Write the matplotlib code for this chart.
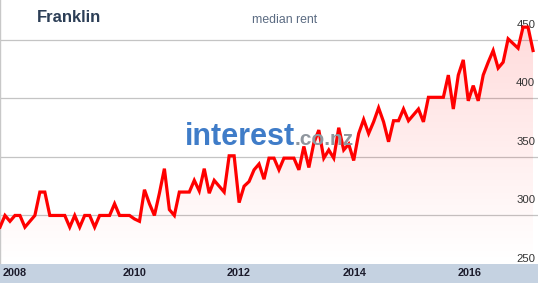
import numpy as np
import matplotlib
matplotlib.use("Agg")
import matplotlib.pyplot as plt
from matplotlib.patches import Polygon

plt.rcParams["font.family"] = ["Liberation Sans", "DejaVu Sans"]

# median rent (one value per period)
rent = [
    290, 300, 295, 300, 300, 290, 295, 300, 320, 320,
    300, 300, 300, 300, 290, 300, 290, 300, 300, 290,
    300, 300, 300, 310, 300, 300, 300, 297, 295, 322,
    310, 300, 319, 340, 305, 300, 320, 320, 320, 330,
    321, 340, 319, 330, 325, 320, 351, 351, 311, 325,
    329, 339, 344, 331, 349, 349, 339, 349, 349, 349,
    339, 359, 341, 362, 373, 349, 356, 349, 375, 356,
    361, 347, 370, 382, 370, 380, 392, 380, 363, 381,
    381, 391, 381, 386, 391, 380, 401, 401, 401, 401,
    420, 391, 420, 433, 398, 411, 398, 420, 431, 441,
    426, 431, 451, 447, 443, 461, 461, 441,
]
year_labels = ["2008", "2010", "2012", "2014", "2016"]
year_pos = [3.0, 27.1, 47.9, 71.1, 94.2]
y_ticks = [250, 300, 350, 400, 450]

W, H = 538, 283
fig = plt.figure(figsize=(W / 100, H / 100), dpi=100)
fig.patch.set_facecolor("white")

band_h = 19 / H
ax = fig.add_axes([0, band_h, 1, 1 - band_h])
ax.set_xlim(0, 108.0)
ax.set_ylim(258.5, 484.2)
ax.set_facecolor("white")
for s in ["top", "right", "bottom"]:
    ax.spines[s].set_visible(False)
ax.spines["left"].set_color("#c8c8c8")
ax.spines["left"].set_linewidth(1.0)
ax.set_xticks([])
ax.set_yticks([])

x = np.arange(len(rent))
y = np.array(rent, dtype=float)

# gridlines
for v in y_ticks:
    ax.axhline(v, color="#c4c4c4", lw=0.9, zorder=1)
    ax.annotate(str(v), xy=(1, v), xycoords=ax.get_yaxis_transform(),
                xytext=(-2, 11), textcoords="offset points",
                ha="right", va="center", fontsize=8.2, color="#333333", zorder=5)

# gradient area under the line
y0, y1 = ax.get_ylim()
grad = np.zeros((256, 2, 4))
grad[..., 0] = 1.0
grad[..., 1] = 0.0
grad[..., 2] = 0.0
alpha = np.linspace(0.0, 0.16, 256)
grad[..., 3] = alpha[:, None]
img = ax.imshow(grad, extent=[0, x[-1], y0, y1], origin="lower",
                aspect="auto", zorder=2, interpolation="bilinear")
verts = np.vstack([[x[0], y0], np.column_stack([x, y]), [x[-1], y0]])
poly = Polygon(verts, closed=True, facecolor="none", edgecolor="none")
ax.add_patch(poly)
img.set_clip_path(poly)

# watermark
fig.text(185 / W, 1 - 145 / H, "interest", fontsize=22, fontweight="bold",
         color="#3f7cc8", ha="left", va="baseline", zorder=3)
fig.text(295 / W, 1 - 145 / H, ".co.nz", fontsize=15, fontweight="bold",
         color="#8f969e", ha="left", va="baseline", zorder=3)

ax.plot(x, y, color="#ff0000", lw=2.3, solid_joinstyle="miter", zorder=6)
ax.set_xlim(0, 108.0)
ax.set_ylim(y0, y1)

# bottom axis band
bx = fig.add_axes([0, 0, 1, band_h])
bx.set_facecolor("#c5d2e1")
bx.set_xlim(0, 108.0)
bx.set_ylim(0, 1)
for s in bx.spines.values():
    s.set_visible(False)
bx.set_xticks([])
bx.set_yticks([])
for lab, p in zip(year_labels, year_pos):
    bx.text(p, 0.5, lab, ha="center", va="center", fontsize=7.8,
            fontweight="bold", color="#1c1c2c")

# titles
fig.text(37 / W, 1 - 18 / H, "Franklin", fontsize=12, fontweight="bold",
         color="#2c3e56", ha="left", va="center")
fig.text(285 / W, 1 - 20 / H, "median rent", fontsize=8.8,
         color="#5b6b82", ha="center", va="center")

fig.savefig("out.png", dpi=100)
